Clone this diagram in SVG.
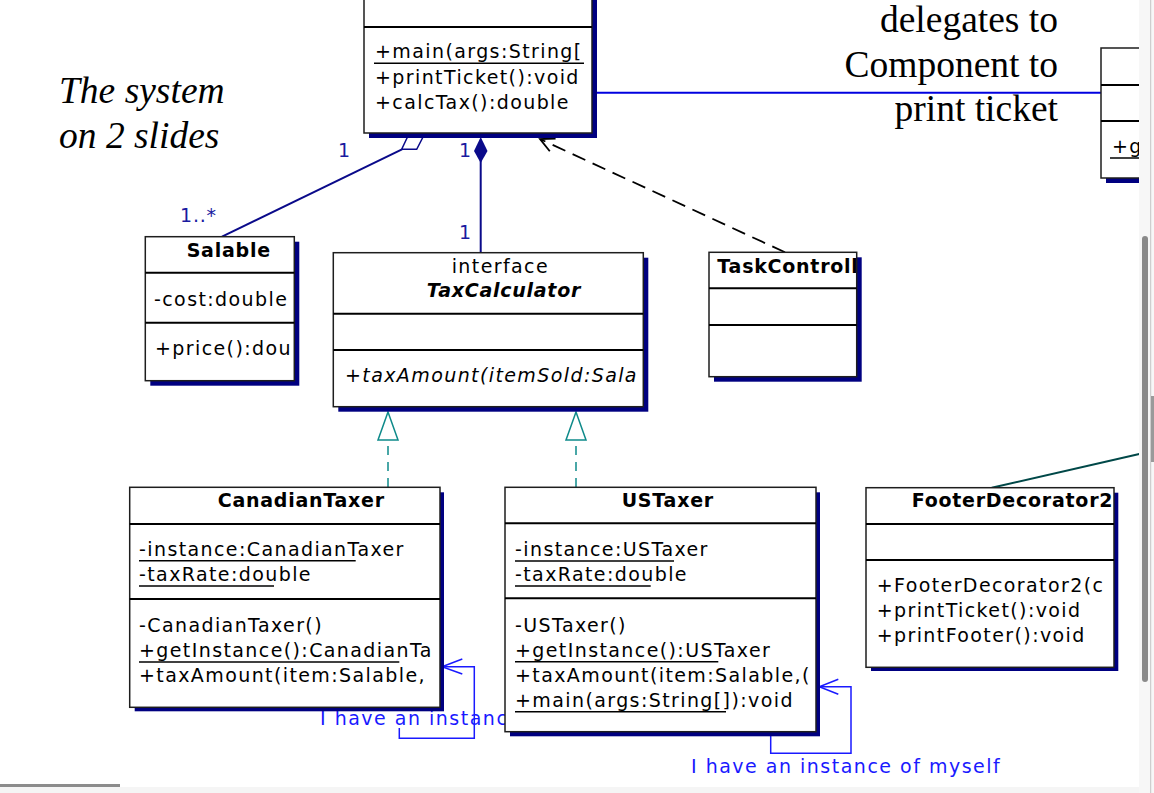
<svg xmlns="http://www.w3.org/2000/svg" width="1154" height="793" viewBox="0 0 1154 793">
<style>
.box{fill:#fff;stroke:#1e1e1e;stroke-width:1.5}
.sh{fill:#000080}
.dv{stroke:#000;stroke-width:2}
.t{font-family:"DejaVu Sans",sans-serif;font-size:19px;letter-spacing:1.4px;fill:#000}
.b{font-weight:bold;letter-spacing:0.75px}
.i{font-style:italic}
.ul{stroke:#000;stroke-width:1.5}
.nv{stroke:#0a0a8a;stroke-width:2;fill:none}
.lbl{font-family:"DejaVu Sans",sans-serif;font-size:19px;letter-spacing:0.8px;fill:#1a1aa0}
.blue{stroke:#1a1aff;stroke-width:1.5;fill:none}
.bt{font-family:"DejaVu Sans",sans-serif;font-size:19px;letter-spacing:1.5px;fill:#1a1aff}
.teal{stroke:#0e8a8a;stroke-width:1.5;fill:none}
.ser{font-family:"Liberation Serif",serif;font-size:37.5px;fill:#000}
</style>
<defs>
<clipPath id="cMain"><rect x="364" y="0" width="227" height="133"/></clipPath>
<clipPath id="cSal"><rect x="146" y="237" width="147" height="143"/></clipPath>
<clipPath id="cTax"><rect x="334" y="253" width="308" height="153"/></clipPath>
<clipPath id="cTask"><rect x="709" y="252" width="147" height="124"/></clipPath>
<clipPath id="cCan"><rect x="130" y="488" width="309" height="219"/></clipPath>
<clipPath id="cUS"><rect x="505" y="488" width="310" height="243"/></clipPath>
<clipPath id="cFoot"><rect x="866" y="488" width="247" height="179"/></clipPath>
<clipPath id="cLbl"><rect x="300" y="700" width="205" height="40"/></clipPath>
</defs>
<rect width="1154" height="793" fill="#fff"/>

<text class="ser i" x="59" y="103">The system</text>
<text class="ser i" x="59" y="148">on 2 slides</text>
<text class="ser" x="1058" y="32" text-anchor="end">delegates to</text>
<text class="ser" x="1058" y="77" text-anchor="end">Component to</text>
<text class="ser" x="1058" y="121" text-anchor="end">print ticket</text>

<g id="connectors">
  <line class="nv" x1="222" y1="236.7" x2="402" y2="149.3"/>
  <polygon points="401.7,149.3 416.7,149.3 423,137 407.5,137" fill="#fff" stroke="#0a0a8a" stroke-width="1.5"/>
  <line class="nv" x1="480.7" y1="160" x2="480.7" y2="253"/>
  <polygon points="480.7,137 487.5,151 480.7,163 474,151" fill="#0a0a8a"/>
  <line x1="785" y1="252.3" x2="541" y2="139.5" stroke="#000" stroke-width="1.8" stroke-dasharray="14,8"/>
  <polyline points="549.8,151.3 540,139 555.6,138.5" fill="none" stroke="#000" stroke-width="1.8"/>
  <line class="teal" x1="388" y1="440" x2="388" y2="487" stroke-dasharray="9,7" stroke-dashoffset="-6"/>
  <polygon class="teal" points="388,412 398,440 378,440"/>
  <line class="teal" x1="576" y1="440" x2="576" y2="487" stroke-dasharray="9,7" stroke-dashoffset="-6"/>
  <polygon class="teal" points="576,412 586,440 566,440"/>
  <line x1="592" y1="92.7" x2="1101" y2="92.7" stroke="#0000e0" stroke-width="2"/>
  <rect x="318" y="709" width="187" height="19" fill="#fff"/>
  <text class="bt" x="320" y="725" clip-path="url(#cLbl)">I have an instanc</text>
  <path class="blue" d="M399.3,728 V738.3 H474.3 V666.7 H442"/>
  <polyline class="blue" points="462.3,659 442,666.7 462.3,674"/>
  <path class="blue" d="M770.7,731.7 V753.3 H851 V686.7 H819.3"/>
  <polyline class="blue" points="838.3,679.3 819.3,686.7 838.3,694.3"/>
  <line x1="991.7" y1="487.7" x2="1139.3" y2="454" stroke="#004848" stroke-width="2"/>
  <text class="lbl" x="338" y="157">1</text>
  <text class="lbl" x="459" y="157">1</text>
  <text class="lbl" x="459" y="239">1</text>
  <text class="lbl" x="180" y="222">1..*</text>
  <text class="bt" x="691" y="772.7">I have an instance of myself</text>
</g>

<g id="main">
  <rect class="sh" x="369" y="-5" width="228" height="143"/>
  <rect class="box" x="364" y="-10" width="228" height="143"/>
  <line class="dv" x1="364" y1="27" x2="592" y2="27"/>
  <g clip-path="url(#cMain)">
    <text class="t" x="375" y="58">+main(args:String[</text>
    <text class="t" x="375" y="84">+printTicket():void</text>
    <text class="t" x="375" y="109">+calcTax():double</text>
  </g>
  <line class="ul" x1="374" y1="63.3" x2="584" y2="63.3"/>
</g>

<g id="salable">
  <rect class="sh" x="150.3" y="241.7" width="149" height="144"/>
  <rect class="box" x="145.3" y="236.7" width="149" height="144"/>
  <line class="dv" x1="145.3" y1="272.7" x2="294.3" y2="272.7"/>
  <line class="dv" x1="145.3" y1="322.7" x2="294.3" y2="322.7"/>
  <g clip-path="url(#cSal)">
    <text class="t b" x="186.7" y="257.3">Salable</text>
    <text class="t" x="154" y="305.7">-cost:double</text>
    <text class="t" x="155" y="355">+price():dou</text>
  </g>
</g>

<g id="taxcalculator">
  <rect class="sh" x="338.3" y="257.7" width="310" height="154"/>
  <rect class="box" x="333.3" y="252.7" width="310" height="154"/>
  <line class="dv" x1="333.3" y1="313.7" x2="643.3" y2="313.7"/>
  <line class="dv" x1="333.3" y1="350" x2="643.3" y2="350"/>
  <g clip-path="url(#cTax)">
    <text class="t" x="451.7" y="272.7">interface</text>
    <text class="t b i" x="426.7" y="297.3">TaxCalculator</text>
    <text class="t i" x="345" y="381.7">+taxAmount(itemSold:Sala</text>
  </g>
</g>

<g id="taskcontroller">
  <rect class="sh" x="714" y="257.3" width="147.7" height="124.4"/>
  <rect class="box" x="709" y="252.3" width="147.7" height="124.4"/>
  <line class="dv" x1="709" y1="288.3" x2="856.7" y2="288.3"/>
  <line class="dv" x1="709" y1="325" x2="856.7" y2="325"/>
  <g clip-path="url(#cTask)">
    <text class="t b" x="717.3" y="272.7">TaskControll</text>
  </g>
</g>

<g id="canadiantaxer">
  <rect class="sh" x="134.7" y="492.3" width="309.3" height="219"/>
  <rect class="box" x="129.7" y="487.3" width="310.3" height="220"/>
  <line class="dv" x1="129.7" y1="524" x2="440" y2="524"/>
  <line class="dv" x1="129.7" y1="599" x2="440" y2="599"/>
  <g clip-path="url(#cCan)">
    <text class="t b" x="217.7" y="507.3">CanadianTaxer</text>
    <text class="t" x="139" y="556">-instance:CanadianTaxer</text>
    <text class="t" x="139" y="580.7">-taxRate:double</text>
    <text class="t" x="139" y="631.7">-CanadianTaxer()</text>
    <text class="t" x="139" y="656.7">+getInstance():CanadianTa</text>
    <text class="t" x="139" y="681.7">+taxAmount(item:Salable,</text>
  </g>
  <line class="ul" x1="139" y1="560.7" x2="355.7" y2="560.7"/>
  <line class="ul" x1="139" y1="586" x2="274" y2="586"/>
  <line class="ul" x1="139" y1="662" x2="399.3" y2="662"/>
</g>

<g id="ustaxer">
  <rect class="sh" x="510" y="492.3" width="310" height="244"/>
  <rect class="box" x="505" y="487.3" width="311" height="244.4"/>
  <line class="dv" x1="505" y1="523.3" x2="816" y2="523.3"/>
  <line class="dv" x1="505" y1="598.3" x2="816" y2="598.3"/>
  <g clip-path="url(#cUS)">
    <text class="t b" x="621.7" y="507.3">USTaxer</text>
    <text class="t" x="515" y="556">-instance:USTaxer</text>
    <text class="t" x="515" y="580.7">-taxRate:double</text>
    <text class="t" x="515" y="631.7">-USTaxer()</text>
    <text class="t" x="515" y="656.7">+getInstance():USTaxer</text>
    <text class="t" x="515" y="681.7">+taxAmount(item:Salable,(</text>
    <text class="t" x="515" y="706.7">+main(args:String[]):void</text>
  </g>
  <line class="ul" x1="515" y1="561" x2="674" y2="561"/>
  <line class="ul" x1="515" y1="586" x2="650.7" y2="586"/>
  <line class="ul" x1="515" y1="661.7" x2="718.3" y2="661.7"/>
  <line class="ul" x1="515" y1="711.7" x2="726" y2="711.7"/>
</g>

<g id="footerdecorator2">
  <rect class="sh" x="871" y="492.7" width="247.3" height="178.3"/>
  <rect class="box" x="866" y="487.7" width="248" height="179.6"/>
  <line class="dv" x1="866" y1="524" x2="1114" y2="524"/>
  <line class="dv" x1="866" y1="560" x2="1114" y2="560"/>
  <g clip-path="url(#cFoot)">
    <text class="t b" x="911.7" y="506.7">FooterDecorator2</text>
    <text class="t" x="876.7" y="591.7">+FooterDecorator2(c</text>
    <text class="t" x="876.7" y="616.7">+printTicket():void</text>
    <text class="t" x="876.7" y="641.7">+printFooter():void</text>
  </g>
</g>

<g id="component">
  <rect class="sh" x="1106" y="53" width="60" height="130"/>
  <rect class="box" x="1101" y="48" width="60" height="130"/>
  <line class="dv" x1="1101" y1="85" x2="1161" y2="85"/>
  <line class="dv" x1="1101" y1="121" x2="1161" y2="121"/>
  <text class="t" x="1112" y="153">+g</text>
  <line class="ul" x1="1110" y1="158" x2="1139" y2="158"/>
</g>

<rect x="1139" y="0" width="15" height="793" fill="#f7f7f7"/>
<line x1="1150.7" y1="0" x2="1150.7" y2="793" stroke="#c4c4c4" stroke-width="1"/>
<rect x="1142" y="236" width="6" height="446" rx="3" fill="#8a8a8a"/>
<rect x="1151" y="396" width="3" height="66" fill="#9a9a9a"/>
<rect x="0" y="787" width="1139" height="6" fill="#f5f5f5"/>
<rect x="0" y="784" width="120" height="3" fill="#8c8c8c"/>
</svg>
